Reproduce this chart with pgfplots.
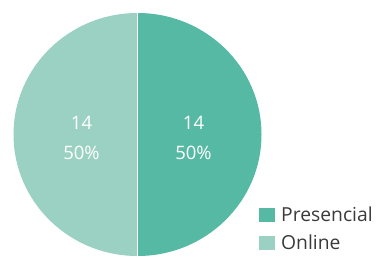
\documentclass[border=0pt]{standalone}
\usepackage{pgfplots}
\pgfplotsset{compat=1.18}
\usepackage{pgfplotstable}
\usepackage{fontspec}
\setmainfont{Open Sans}
\definecolor{pres}{HTML}{55B9A3}
\definecolor{onl}{HTML}{9BD1C2}
\definecolor{txt}{HTML}{3A3A3A}
\pgfplotstableread{
label value
Presencial 14
Online 14
}\piedata
\begin{document}
\begin{tikzpicture}
\useasboundingbox (0,0) rectangle (379pt,258pt);
\pgfplotstablegetelem{0}{value}\of\piedata \let\va\pgfplotsretval
\pgfplotstablegetelem{1}{value}\of\piedata \let\vb\pgfplotsretval
\pgfmathsetmacro\tot{\va+\vb}
\pgfmathsetmacro\aa{360*\va/\tot}
\pgfmathsetmacro\ea{90-\aa}
\pgfmathsetmacro\ma{90-\aa/2}
\pgfmathsetmacro\mb{90-\aa-(360-\aa)/2}
\pgfmathsetmacro\pa{round(100*\va/\tot)}
\pgfmathsetmacro\pb{round(100*\vb/\tot)}
\begin{axis}[x=1pt,y=1pt,xmin=0,xmax=379,ymin=0,ymax=258,hide axis,clip=false,anchor=south west,at={(0,0)},
  /pgf/number format/assume math mode=true]
\fill[pres] (axis cs:137.5,123.5) -- ++({124pt*cos(90)},{121.5pt*sin(90)}) arc[start angle=90,end angle=\ea,x radius=124pt,y radius=121.5pt] -- cycle;
\fill[onl] (axis cs:137.5,123.5) -- ++({124pt*cos(\ea)},{121.5pt*sin(\ea)}) arc[start angle=\ea,end angle=-270,x radius=124pt,y radius=121.5pt] -- cycle;
\draw[white,line width=0.3pt] (axis cs:137.5,123.5) -- ++({124pt*cos(90)},{121.5pt*sin(90)});
\draw[white,line width=0.3pt] (axis cs:137.5,123.5) -- ++({124pt*cos(\ea)},{121.5pt*sin(\ea)});
\node[white,align=center,font=\fontsize{18.5}{30}\selectfont] at ([shift={(\ma:56pt)}]axis cs:137.5,120) {\pgfmathprintnumber{\va}\\\pgfmathprintnumber[precision=0]{\pa}\%};
\node[white,align=center,font=\fontsize{18.5}{30}\selectfont] at ([shift={(\mb:56pt)}]axis cs:137.5,120) {\pgfmathprintnumber{\vb}\\\pgfmathprintnumber[precision=0]{\pb}\%};
\fill[pres] (axis cs:259,36) rectangle (axis cs:275,50.5);
\fill[onl] (axis cs:259,8) rectangle (axis cs:275,22.5);
\node[anchor=west,txt,inner sep=0pt,font=\fontsize{19.3}{22}\selectfont] at (axis cs:281,44) {Presencial};
\node[anchor=west,txt,inner sep=0pt,font=\fontsize{19.3}{22}\selectfont] at (axis cs:281,16) {Online};
\end{axis}
\end{tikzpicture}
\end{document}
